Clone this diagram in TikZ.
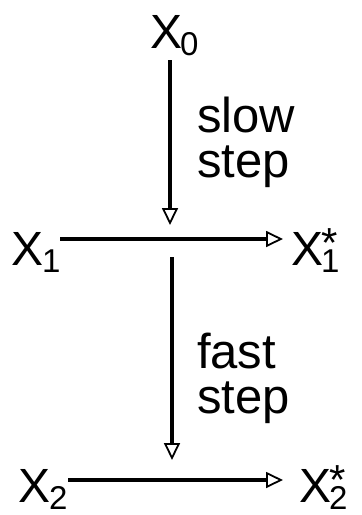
\documentclass[tikz,border=0pt]{standalone}
\usepackage{fontspec}
\setmainfont{Liberation Sans}
\usetikzlibrary{arrows.meta}
\newcommand\bigX[1]{\fontsize{48}{48}\selectfont X\kern-2pt\raisebox{-7pt}{\fontsize{33}{33}\selectfont #1}}
\newcommand\bigXs[1]{\fontsize{48}{48}\selectfont X\kern-2pt\rlap{\raisebox{-7pt}{\fontsize{33}{33}\selectfont #1}}\raisebox{8pt}{\fontsize{42}{42}\selectfont *}}
\tikzset{
  lbl/.style={inner sep=0pt, outer sep=0pt, anchor=base west},
  txt/.style={inner sep=0pt, outer sep=0pt, anchor=base west, font=\fontsize{49}{49}\selectfont},
  arr/.style={line width=3.2pt, -{Triangle[open, length=17pt, width=16pt, line width=1.8pt]}}
}
\begin{document}
\begin{tikzpicture}[x=1pt, y=-1pt]
\useasboundingbox (0,0) rectangle (362,515);
\node[lbl] (X0) at (150,48) {\bigX{0}};
\node[lbl] (X1) at (12,265) {\bigX{1}};
\node[lbl] (X1s) at (291,265) {\bigXs{1}};
\node[lbl] (X2) at (19,502) {\bigX{2}};
\node[lbl] (X2s) at (299,502) {\bigXs{2}};
\node[txt] (slow) at (197,132) {slow};
\node[txt] (step1) at (197,177) {step};
\node[txt] (fast) at (197,368) {fast};
\node[txt] (step2) at (197,413) {step};
\coordinate (a1s) at (170,60);
\coordinate (a1e) at (170,225);
\coordinate (a2s) at (172,257);
\coordinate (a2e) at (172,460);
\draw[arr] (a1s) -- (a1e);
\draw[arr] (a2s) -- (a2e);
\draw[arr] ([yshift=26pt]X1.base east) -- ([yshift=26pt, xshift=-8pt]X1s.base west);
\draw[arr] ([yshift=22pt, xshift=1pt]X2.base east) -- ([yshift=22pt, xshift=-16pt]X2s.base west);
\end{tikzpicture}
\end{document}
